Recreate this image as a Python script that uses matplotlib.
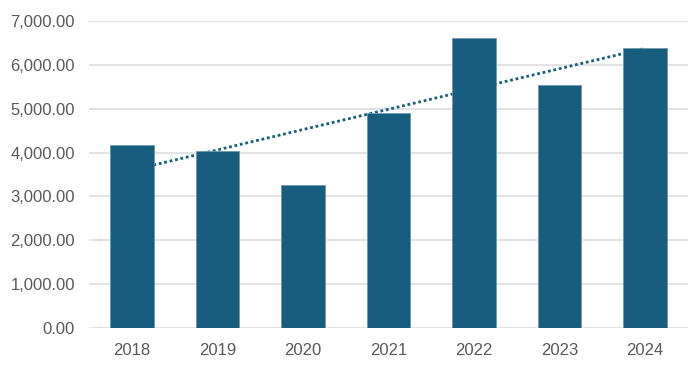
import numpy as np
import matplotlib.pyplot as plt
from matplotlib.ticker import FuncFormatter

# values
years = ['2018', '2019', '2020', '2021', '2022', '2023', '2024']
values = [4180, 4036, 3260, 4900, 6612, 5540, 6384]
yticks = [0, 1000, 2000, 3000, 4000, 5000, 6000, 7000]

bar_color = '#175e7e'
text_color = '#595959'

plt.rcParams['font.family'] = ['Liberation Sans', 'DejaVu Sans']

fig = plt.figure(figsize=(6.98, 3.68), dpi=100)
ax = fig.add_axes([89 / 698, 1 - 328 / 368, 599 / 698, 307 / 368])

x = np.arange(len(years))

# linear trendline behind the bars
k, b = np.polyfit(x, values, 1)
ax.plot(x, k * x + b, color=bar_color, linestyle=(0, (1, 1)), linewidth=2, zorder=2)

ax.bar(x, values, width=0.51, color=bar_color, edgecolor='#6e98ad', linewidth=0.6, zorder=3)

ax.set_xlim(-0.5, len(years) - 0.5)
ax.set_ylim(0, 7000)
ax.set_yticks(yticks)
ax.yaxis.set_major_formatter(FuncFormatter(lambda v, p: f'{v:,.2f}'))
ax.set_xticks(x)
ax.set_xticklabels(years)

ax.grid(axis='y', color='#e3e3e3', linewidth=1.5, zorder=0)
ax.set_axisbelow(True)
for s in ax.spines.values():
    s.set_visible(False)
ax.tick_params(length=0, labelsize=12, colors=text_color)
ax.tick_params(axis='x', pad=11)
ax.tick_params(axis='y', pad=10)

fig.savefig('out.png', dpi=100)
